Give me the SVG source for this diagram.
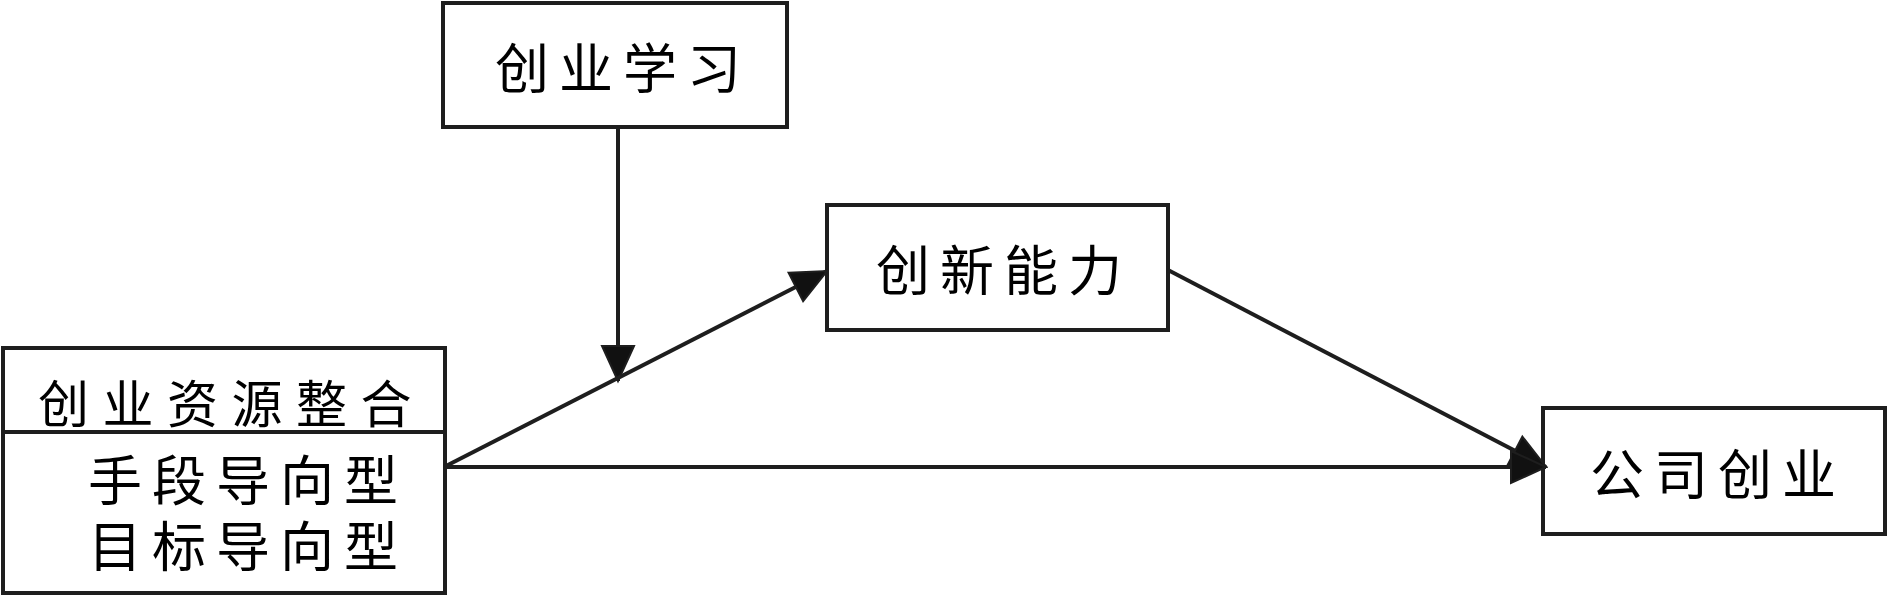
<svg xmlns="http://www.w3.org/2000/svg" width="1888" height="596" viewBox="0 0 1888 596">
<style>
.box{fill:#fff;stroke:#1e1e1e;stroke-width:4}
.t{font-family:"Noto Sans CJK SC","Noto Sans CJK JP",sans-serif;font-size:54px;letter-spacing:10px;fill:#000;dominant-baseline:central}
.s{font-size:51px;letter-spacing:13.5px}
.c{stroke:#1e1e1e;stroke-width:4;fill:none}
</style>
<defs>
<marker id="ah" markerUnits="userSpaceOnUse" markerWidth="40" markerHeight="36" viewBox="0 0 40 36" refX="37" refY="18" orient="auto">
<path d="M2,2 L37,18 L2,34 z" fill="#111" stroke="#1e1e1e" stroke-width="2"/>
</marker>
</defs>
<rect width="1888" height="596" fill="#fff"/>
<g id="node-resource">
<rect class="box" x="3" y="348" width="442" height="245"/>
<text class="t s" x="38" y="401">创业资源整合</text>
<line x1="3" y1="432" x2="445" y2="432" stroke="#1e1e1e" stroke-width="4"/>
<text class="t" x="88" y="477">手段导向型</text>
<text class="t" x="88" y="543">目标导向型</text>
</g>
<g id="node-learning">
<rect class="box" x="443" y="3" width="344" height="124"/>
<text class="t" x="495" y="65">创业学习</text>
</g>
<g id="node-innovation">
<rect class="box" x="827" y="205" width="341" height="125"/>
<text class="t" x="876" y="267">创新能力</text>
</g>
<g id="node-venture">
<rect class="box" x="1543" y="408" width="342" height="126"/>
<text class="t" x="1590" y="471">公司创业</text>
</g>
<g id="connectors">
<line class="c" x1="618" y1="127" x2="618" y2="381" marker-end="url(#ah)"/>
<line class="c" x1="444" y1="467" x2="827" y2="271" marker-end="url(#ah)"/>
<line class="c" x1="1168" y1="270" x2="1546" y2="467" marker-end="url(#ah)"/>
<line class="c" x1="444" y1="467" x2="1546" y2="467" marker-end="url(#ah)"/>
</g>
</svg>
